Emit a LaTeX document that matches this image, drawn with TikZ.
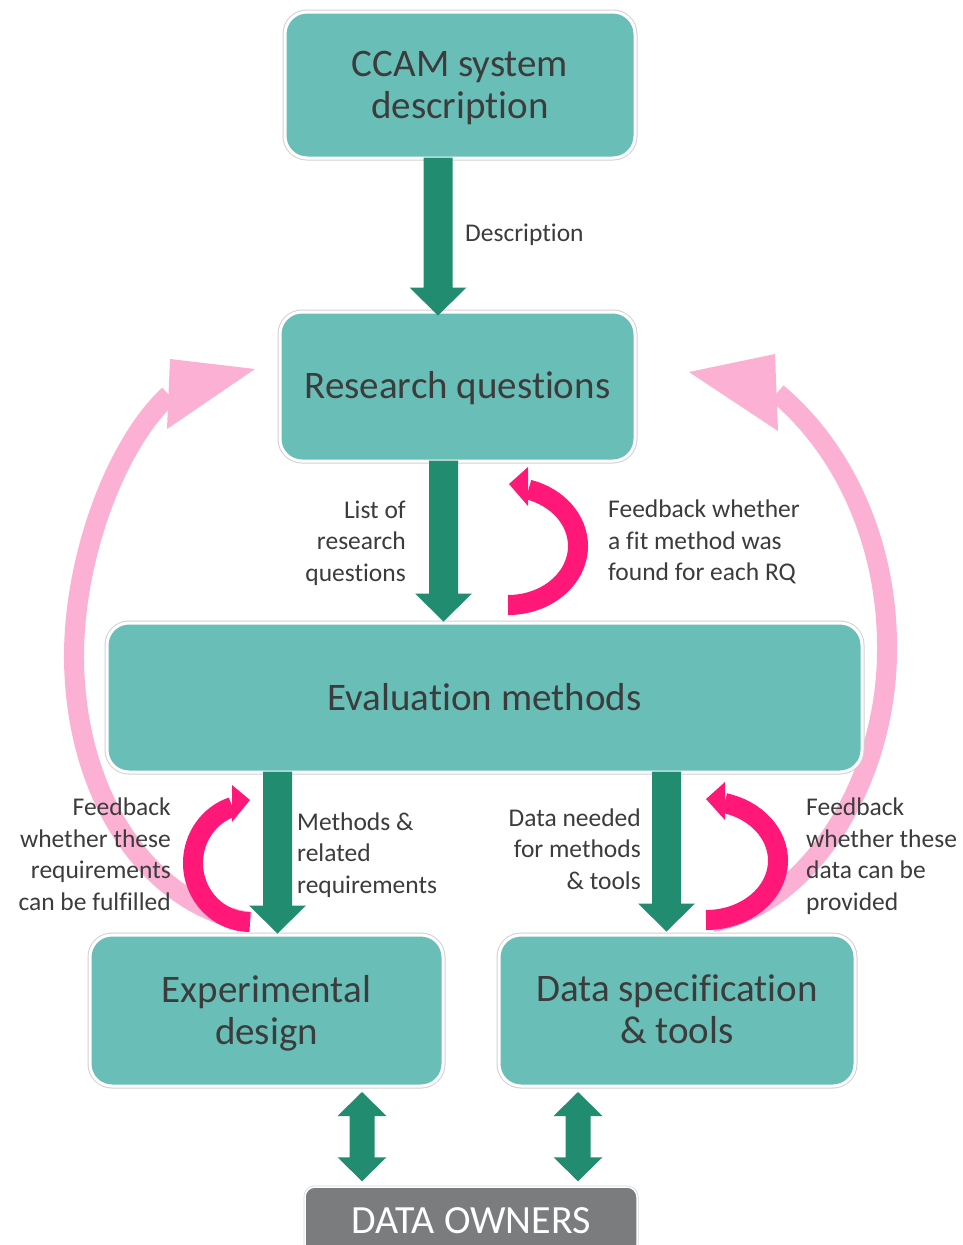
\documentclass[tikz,border=0pt]{standalone}
\usepackage{fontspec}
\setmainfont{Carlito}[Ligatures=NoCommon]
\usetikzlibrary{calc}
\definecolor{teal1}{HTML}{69BFB8}
\definecolor{agreen}{HTML}{228C71}
\definecolor{mag}{HTML}{FF1878}
\definecolor{pinkc}{HTML}{FCB1D4}
\definecolor{ownergray}{HTML}{7B7C7E}
\definecolor{txt}{HTML}{3C3C3C}
\newcommand\dnarrow[2]{\fill[agreen] let \p1=#1, \p2=#2 in
  (\x1-14.5pt,\y1) -- (\x1+14.5pt,\y1) -- (\x1+14.5pt,\y2+28pt) -- (\x1+28.5pt,\y2+28pt)
  -- (\x1,\y2) -- (\x1-28.5pt,\y2+28pt) -- (\x1-14.5pt,\y2+28pt) -- cycle;}
\newcommand\dblarrow[2]{\fill[agreen] let \p1=#1, \p2=#2 in
  (\x1,\y1) -- (\x1+24.5pt,\y1-24pt) -- (\x1+12.5pt,\y1-24pt) -- (\x1+12.5pt,\y2+24pt)
  -- (\x1+24.5pt,\y2+24pt) -- (\x1,\y2) -- (\x1-24.5pt,\y2+24pt) -- (\x1-12.5pt,\y2+24pt)
  -- (\x1-12.5pt,\y1-24pt) -- (\x1-24.5pt,\y1-24pt) -- cycle;}
\tikzset{
  box/.style={rectangle, rounded corners=22pt, fill=teal1, draw=white, line width=3pt,
    preaction={draw=black!18, line width=5pt}, inner sep=0pt},
  boxtext/.style={text=txt, font=\fontsize{39}{42}\selectfont, align=center, inner sep=0pt},
  ownerbox/.style={rectangle, rounded corners=10pt, fill=ownergray, draw=white, line width=1.5pt,
    preaction={draw=black!15, line width=3pt}, text=white,
    font=\fontsize{40}{44}\selectfont, inner sep=0pt},
  lbl/.style={text=txt, font=\fontsize{25.5}{31.5}\selectfont, inner sep=0pt},
  pinkband/.style={draw=pinkc, line width=20pt},
  magband/.style={draw=mag, line width=20pt},
}
\begin{document}
\begin{tikzpicture}[x=1pt,y=-1pt]
\useasboundingbox (0,0) rectangle (963,1245);
\fill[white] (0,0) rectangle (963,1245);

% large pink feedback arcs (behind everything)
\coordinate (pl0) at (250,922);
\coordinate (pl1) at (74,660);
\coordinate (pl2) at (169,395);
\coordinate (pr0) at (712,922);
\coordinate (pr1) at (887,650);
\coordinate (pr2) at (777,393);
\draw[pinkband] (pl0) .. controls (150,905) and (76,800) .. (pl1)
  .. controls (73,560) and (115,445) .. (pl2);
\fill[pinkc] (170,359) -- (255,369) -- (167,429) -- cycle;
\draw[pinkband] (pr0) .. controls (810,905) and (887,780) .. (pr1)
  .. controls (888,545) and (845,450) .. (pr2);
\fill[pinkc] (775,354) -- (689,372) -- (778,431) -- cycle;

% boxes
\node[box, minimum width=350pt, minimum height=146pt,
  label={[boxtext, yshift=-3pt]center:{CCAM system\\description}}] (ccam) at (460,85) {};
\node[box, minimum width=355pt, minimum height=149pt,
  label={[boxtext, yshift=-2pt]center:{Research questions}}] (rq) at (457.5,386.5) {};
\node[box, minimum width=755pt, minimum height=149pt,
  label={[boxtext]center:{Evaluation methods}}] (eval) at (484.5,697.5) {};
\node[box, minimum width=353pt, minimum height=151pt,
  label={[boxtext, yshift=-2.5pt]center:{Experimental\\design}}] (exp) at (266.5,1010.5) {};
\node[box, minimum width=356pt, minimum height=151pt,
  label={[boxtext, yshift=1pt]center:{Data specification\\\& tools}}] (dspec) at (677,1010.5) {};
\node[ownerbox, minimum width=332pt, minimum height=68pt] (own) at (471,1221) {DATA OWNERS};

% green block arrows
\dnarrow{([xshift=-22pt,yshift=2pt]ccam.south)}{([yshift=-5pt]rq.north)}
\dnarrow{([xshift=-14pt,yshift=2pt]rq.south)}{([yshift=-0pt]eval.north)}
\dnarrow{([xshift=-207pt,yshift=2pt]eval.south)}{([yshift=-0pt]exp.north)}
\dnarrow{([xshift=182pt,yshift=2pt]eval.south)}{([yshift=2pt]dspec.north)}
\dblarrow{([xshift=95.5pt,yshift=-4.5pt]exp.south)}{([yshift=5pt]own.north)}
\dblarrow{([xshift=-99pt,yshift=-4.5pt]dspec.south)}{([yshift=5pt]own.north)}

% magenta feedback arcs
\coordinate (m1) at (508,605);
\draw[magband] (m1) arc[start angle=90, end angle=-73, x radius=70, y radius=59];
\fill[mag] (528,467) -- (509,484) -- (528,506) -- cycle;
\coordinate (m2) at (250,922);
\draw[magband] (m2) arc[start angle=90, end angle=252, x radius=57, y radius=59];
\fill[mag] (232,785) -- (250,800) -- (232,822) -- cycle;
\coordinate (m3) at (706,920);
\draw[magband] (m3) arc[start angle=90, end angle=-75, x radius=72, y radius=59.5];
\fill[mag] (725,782) -- (706,799) -- (725,820) -- cycle;

% labels
\node[lbl, anchor=west] (ldesc) at (465,235) {Description};
\node[lbl, anchor=east, align=right] (llist) at (406,543) {List of\\research\\questions};
\node[lbl, anchor=west, align=left] (lfit) at (608,542) {Feedback whether\\a fit method was\\found for each RQ};
\node[lbl, anchor=east, align=right] (lfl) at (171,854) {Feedback\\whether these\\requirements\\can be fulfilled};
\node[lbl, anchor=west, align=left] (lmeth) at (297,855) {Methods \&\\related\\requirements};
\node[lbl, anchor=east, align=right] (ldata) at (641,849) {Data needed\\for methods\\\& tools};
\node[lbl, anchor=west, align=left] (lfr) at (806,856) {Feedback\\whether these\\data can be\\provided};
\end{tikzpicture}
\end{document}
